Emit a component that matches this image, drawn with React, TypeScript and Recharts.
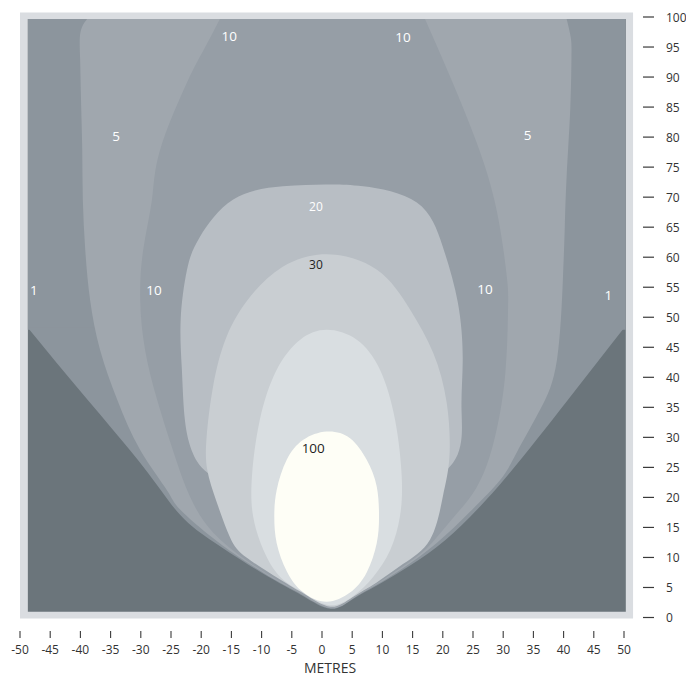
import { ComposedChart, Scatter, XAxis, YAxis, ReferenceArea } from "recharts"

type Pt = { x: number; y: number }

const toPts = (pairs: number[][]): Pt[] => pairs.map(([x, y]) => ({ x, y }))

// closed outline: run a few points past the start so the spline has no corner there
const closeLoop = (pts: Pt[]): Pt[] => [...pts, ...pts.slice(0, 3)]

const X_TICKS = [-50, -45, -40, -35, -30, -25, -20, -15, -10, -5, 0, 5, 10, 15, 20, 25, 30, 35, 40, 45, 50]
const Y_TICKS = [0, 5, 10, 15, 20, 25, 30, 35, 40, 45, 50, 55, 60, 65, 70, 75, 80, 85, 90, 95, 100]

// lower edge of the 1 lux zone (left to right)
const LUX_1_EDGE = toPts([
  [-48.7, 48.25], [-39.2, 36.7], [-29.6, 25.1], [-23.5, 17.1], [-18, 12.6], [-12.5, 9.0],
  [-7, 5.7], [-3, 3.5], [1.4, 1.45], [5, 3.0], [9, 5.3], [13.4, 7.9], [19, 11.75],
  [24.5, 16.75], [31.1, 24.1], [40.6, 36.1], [50, 48.2],
])

// 5 lux edge, from top left, round the bottom, to top right
const LUX_5_EDGE = toPts([
  [-38.9, 99.67], [-40.0, 97.4], [-40.05, 93], [-39.9, 86.25], [-39.7, 78], [-39.6, 69.6],
  [-39.2, 61.25], [-38.4, 52.9], [-36.75, 44.6], [-33.9, 36.25], [-30.1, 27.9], [-25.7, 21.25],
  [-23.5, 18.0], [-18, 13.2], [-12.5, 9.25], [-7, 5.85], [-3, 3.65], [1.4, 1.55],
  [5, 3.1], [9, 5.45], [13.4, 8.2], [19, 12.4], [24.5, 17.6], [29.5, 22.9], [32.2, 27.4],
  [36.1, 34.6], [38.9, 42.9], [39.9, 56.75], [40.2, 65.1], [40.5, 73.4], [41.1, 84.6],
  [41.3, 93], [41.2, 96.5], [40.5, 99.67],
])

const LUX_10_EDGE = toPts([
  [-16.9, 99.67], [-19.6, 94.5], [-22.35, 89.1], [-26.8, 77.9], [-28.15, 69.6], [-29.6, 61.25],
  [-30.1, 52.9], [-29.3, 44.6], [-27.3, 36.25], [-24.7, 27.9], [-21.85, 20.1], [-18, 14.1],
  [-12.5, 9.5], [-7, 6.0], [-3, 3.8], [1.4, 1.65], [5, 3.2], [9, 5.6], [13.4, 8.5],
  [17.3, 11.5], [21.2, 16.0], [25.5, 21.5], [28.4, 29.1], [30.3, 40.1], [30.8, 51.25],
  [30.6, 56.75], [28.9, 67.9], [25.6, 79.1], [21.2, 90.1], [17.05, 99.67],
])

const LUX_20_LOOP = toPts([
  [0.8, 19.5], [-10, 20.5], [-18.2, 23.6], [-21.4, 27.4], [-22.7, 32.9], [-23.2, 41.25],
  [-23.4, 49.6], [-22.35, 57.9], [-20.2, 63.4], [-14.7, 69.6], [-6.5, 71.8], [0.5, 72.1],
  [6.8, 71.8], [15.7, 69.1], [20.0, 61.75], [22.5, 52.4], [23.3, 42.9], [23.1, 34.6],
  [21.7, 25.75], [12, 20.5],
])

const LUX_30_LOOP = toPts([
  [1.4, 1.8], [-3, 3.95], [-7, 6.35], [-12.5, 10.0], [-15.2, 13.3], [-17.4, 19.1],
  [-19.0, 24.6], [-19.1, 30.1], [-18.05, 38.4], [-15.8, 46.75], [-11.9, 53.4], [-6.5, 58.4],
  [0.8, 60.5], [9.1, 57.9], [14.6, 51.25], [18.4, 44.1], [20.65, 35.75], [21.1, 26.75],
  [20.0, 20.1], [17.9, 13.0], [13.4, 8.9], [9, 5.8], [5, 3.35],
])

const LUX_50_LOOP = toPts([
  [1.2, 2.05], [-3.1, 4.2], [-6.95, 6.8], [-9.7, 11.25], [-11.4, 16.8], [-11.6, 23.5],
  [-10.3, 32.9], [-7.5, 41.25], [-3.6, 46.25], [0.8, 47.9], [5.75, 46.25], [9.6, 41.25],
  [12.1, 32.9], [13.2, 23.5], [12.9, 16.8], [11.3, 11.25], [8.5, 6.8], [5.2, 3.6],
])

const LUX_100_LOOP = toPts([
  [0.78, 2.63], [-3.1, 4.2], [-5.84, 7.7], [-7.5, 12.37], [-7.9, 16.8], [-7.5, 21.25],
  [-5.84, 26.25], [-3.1, 29.58], [0.78, 30.97], [4.64, 29.87], [7.4, 26.25], [9.06, 21.8],
  [9.44, 16.8], [9.06, 12.37], [7.4, 7.5], [4.64, 4.15],
])

const CONTOUR_LABELS = [
  { x: -15.35, y: 96.8, label: "10" },
  { x: 13.4, y: 96.6, label: "10" },
  { x: -34.1, y: 80.25, label: "5" },
  { x: 34.05, y: 80.4, label: "5" },
  { x: -47.7, y: 54.6, label: "1" },
  { x: 47.4, y: 53.75, label: "1" },
  { x: -27.8, y: 54.6, label: "10" },
  { x: 27.0, y: 54.7, label: "10" },
  { x: -1.0, y: 68.5, label: "20" },
  { x: -1.0, y: 58.75, label: "30" },
  { x: -1.45, y: 28.2, label: "100" },
]

const FRAME_COLOR = "#dadde1"
const SHADOW_COLOR = "#6b757b"
const ZONE_COLORS = {
  lux1: "#8c959d",
  lux5: "#a0a7ae",
  lux10: "#969ea6",
  lux20: "#b8bec4",
  lux30: "#c9ced2",
  lux50: "#d9dee1",
  lux100: "#fefef6",
}
const DARK_LABELS = ["30", "100"]
const SMALL_LABELS = ["20", "30"]

const FONT = "'Open Sans', 'Noto Sans', sans-serif"
const TICK_COLOR = "#3a3a3a"

function XTick({ x, y, payload }: any) {
  return (
    <g>
      <line x1={x} x2={x} y1={y + 13.5} y2={y + 20.5} stroke={TICK_COLOR} strokeWidth={1.1} />
      <text x={x} y={y + 31.5} textAnchor="middle" dominantBaseline="central" fontSize={12} fill="#333">
        {payload.value}
      </text>
    </g>
  )
}

function YTick({ x, y, payload }: any) {
  return (
    <g>
      <line x1={x + 19} x2={x + 30} y1={y} y2={y} stroke={TICK_COLOR} strokeWidth={1.2} />
      <text x={x + 42} y={y} textAnchor="start" dominantBaseline="central" fontSize={12} fill="#333">
        {payload.value}
      </text>
    </g>
  )
}

const noDot = () => <g />

function ContourLabel({ cx, cy, payload }: any) {
  const dark = DARK_LABELS.includes(payload.label)
  return (
    <text
      x={cx}
      y={cy}
      textAnchor="middle"
      dominantBaseline="central"
      fontSize={SMALL_LABELS.includes(payload.label) ? 12 : 13.5}
      fill={dark ? "#1e1e1e" : "#ffffff"}
    >
      {payload.label}
    </text>
  )
}

export default function App() {
  // each lux zone is a filled spline through its outline points
  const zone = (data: Pt[], color: string, key: string) => (
    <Scatter
      key={key}
      data={data}
      fill={color}
      line={{ fill: color, stroke: "none" }}
      lineType="joint"
      lineJointType="natural"
      shape={noDot}
      isAnimationActive={false}
    />
  )

  return (
    <div style={{ position: "absolute", left: 0, top: 0, width: 686, height: 675, fontFamily: FONT, background: "#fff" }}>
      <ComposedChart width={686} height={675} margin={{ top: 17, right: 12, bottom: 7.5, left: 20 }}>
        <XAxis
          type="number"
          dataKey="x"
          domain={[-50, 50]}
          ticks={X_TICKS}
          interval={0}
          height={50}
          axisLine={false}
          tickLine={false}
          tickSize={0}
          tickMargin={0}
          tick={<XTick />}
          label={{ value: "METRES", position: "insideBottom", offset: -5, dx: 8, fill: "#333", fontSize: 14 }}
        />
        <YAxis
          type="number"
          dataKey="y"
          orientation="right"
          domain={[0, 100]}
          ticks={Y_TICKS}
          interval={0}
          width={50}
          axisLine={false}
          tickLine={false}
          tickSize={0}
          tickMargin={0}
          tick={<YTick />}
        />
        <ReferenceArea x1={-50} x2={51.5} y1={-0.15} y2={100.75} fill={FRAME_COLOR} fillOpacity={1} stroke="none" ifOverflow="visible" />
        <ReferenceArea x1={-48.7} x2={50.3} y1={0.97} y2={99.67} fill={SHADOW_COLOR} fillOpacity={1} stroke="none" ifOverflow="visible" />
        <ReferenceArea x1={-48.7} x2={50.3} y1={47.9} y2={99.67} fill={ZONE_COLORS.lux1} fillOpacity={1} stroke="none" ifOverflow="visible" />
        {zone(LUX_1_EDGE, ZONE_COLORS.lux1, "lux1")}
        {zone(LUX_5_EDGE, ZONE_COLORS.lux5, "lux5")}
        {zone(LUX_10_EDGE, ZONE_COLORS.lux10, "lux10")}
        {zone(closeLoop(LUX_20_LOOP), ZONE_COLORS.lux20, "lux20")}
        {zone(closeLoop(LUX_30_LOOP), ZONE_COLORS.lux30, "lux30")}
        {zone(closeLoop(LUX_50_LOOP), ZONE_COLORS.lux50, "lux50")}
        {zone(closeLoop(LUX_100_LOOP), ZONE_COLORS.lux100, "lux100")}
        <Scatter data={CONTOUR_LABELS} shape={ContourLabel} isAnimationActive={false} />
      </ComposedChart>
    </div>
  )
}
